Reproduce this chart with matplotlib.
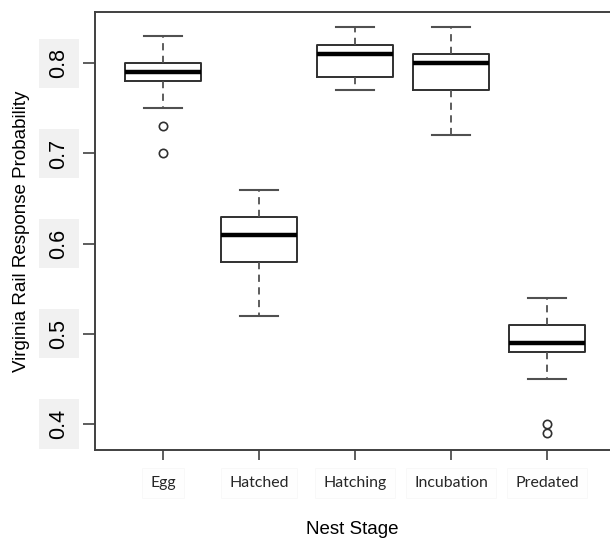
import matplotlib
matplotlib.use('Agg')
import matplotlib.pyplot as plt

# Dados (estatísticas de cada caixa)
estagios = ['Egg', 'Hatched', 'Hatching', 'Incubation', 'Predated']
bigode_inf = [0.75, 0.52, 0.77, 0.72, 0.45]
quartil_1 = [0.78, 0.58, 0.785, 0.77, 0.48]
mediana = [0.79, 0.61, 0.81, 0.80, 0.49]
quartil_3 = [0.80, 0.63, 0.82, 0.81, 0.51]
bigode_sup = [0.83, 0.66, 0.84, 0.84, 0.54]
outliers = [[0.73, 0.70], [], [], [], [0.40, 0.39]]
ticks_y = [0.4, 0.5, 0.6, 0.7, 0.8]


def gerar_grafico():
    stats = []
    for i, nome in enumerate(estagios):
        stats.append({'label': nome, 'whislo': bigode_inf[i], 'q1': quartil_1[i],
                      'med': mediana[i], 'q3': quartil_3[i], 'whishi': bigode_sup[i],
                      'fliers': outliers[i]})

    fig = plt.figure(figsize=(6.1, 5.39), dpi=100)
    ax = fig.add_axes([95 / 610, 89 / 539, 1 - 95 / 610, 438 / 539])

    cinza = '#505050'
    ax.bxp(stats, positions=range(1, 6), widths=0.8, patch_artist=False,
           boxprops=dict(color='#303030', linewidth=1.4),
           medianprops=dict(color='black', linewidth=3.2, solid_capstyle='butt'),
           whiskerprops=dict(color=cinza, linewidth=1.3, linestyle=(0, (4, 3))),
           capprops=dict(color=cinza, linewidth=1.5),
           capwidths=0.4,
           flierprops=dict(marker='o', markersize=6, markerfacecolor='none',
                           markeredgecolor='#303030', markeredgewidth=1.2))

    ax.set_xlim(0.292, 5.656)
    ax.set_ylim(0.371, 0.857)

    # Eixo y com rótulos rotacionados e fundo cinza
    ax.set_yticks(ticks_y)
    ax.set_yticklabels([f'{v:.1f}' for v in ticks_y], rotation=90, va='center',
                       fontsize=15.5, family='Liberation Sans',
                       bbox=dict(boxstyle='square,pad=0.45', facecolor='#f1f1f1',
                                 edgecolor='none'))
    ax.set_xticks(range(1, 6))
    ax.set_xticklabels(estagios, fontsize=11.4, family='Lato', color='#262626',
                       bbox=dict(boxstyle='square,pad=0.5', facecolor='#fefefe',
                                 edgecolor='#f8f8f8', linewidth=0.6))

    ax.tick_params(axis='y', length=8.5, width=1.3, color=cinza, pad=10)
    ax.tick_params(axis='x', length=7.5, width=1.3, color=cinza, pad=11)

    for lado in ['left', 'top', 'bottom']:
        ax.spines[lado].set_color('#404040')
        ax.spines[lado].set_linewidth(1.4)
    ax.spines['right'].set_visible(False)

    # Título do eixo x colado à borda inferior, como no original
    fig.text((95 + 610) / 2 / 610, 5 / 539, 'Nest Stage', ha='center', va='baseline',
             fontsize=13.5, family='Liberation Sans')
    ax.set_ylabel('Virginia Rail Response Probability', fontsize=13.5,
                  family='Liberation Sans')
    ax.yaxis.set_label_coords(-0.126, 0.5)

    fig.savefig('out.png', dpi=100)
    plt.close(fig)


if __name__ == '__main__':
    gerar_grafico()
